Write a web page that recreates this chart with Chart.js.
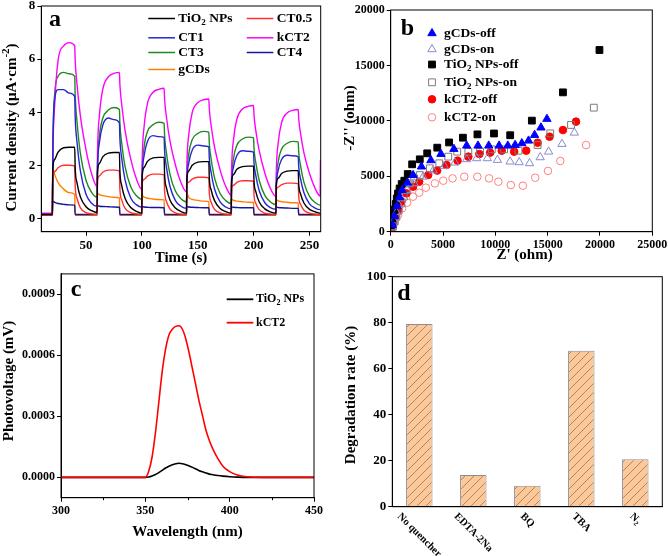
<!DOCTYPE html>
<html><head><meta charset="utf-8">
<script src="https://cdn.jsdelivr.net/npm/chart.js@4.4.1/dist/chart.umd.min.js"></script>
<style>
html,body{margin:0;padding:0;background:#fff}
body{width:668px;height:556px;position:relative;overflow:hidden}
canvas{position:absolute;display:block}
</style></head><body>
<canvas id="ca" width="334" height="275" style="left:0;top:0;width:334px;height:275px"></canvas>
<canvas id="cb" width="334" height="275" style="left:334px;top:0;width:334px;height:275px"></canvas>
<canvas id="cc" width="334" height="291" style="left:0;top:265px;width:334px;height:291px"></canvas>
<canvas id="cd" width="334" height="291" style="left:334px;top:265px;width:334px;height:291px"></canvas>
<script>
// ================= Panel a: photocurrent vs time =================
const timeS = [10,
19.9,20.3,22,25,30,35,39.9,40.3,42,45,50,55,
59.9,60.3,62,65,70,75,79.9,80.3,82,85,90,95,
99.9,100.3,102,105,110,115,119.9,120.3,122,125,130,135,
139.9,140.3,142,145,150,155,159.9,160.3,162,165,170,175,
179.9,180.3,182,185,190,195,199.9,200.3,202,205,210,215,
219.9,220.3,222,225,230,235,239.9,240.3,242,245,250,255,
259.5,259.8];
const tio2NPs = [0.15,
0.15,1.87,2.22,2.5,2.66,2.68,2.68,1.94,1.33,0.81,0.44,0.29,
0.22,1.76,2.07,2.32,2.46,2.48,2.48,1.8,1.23,0.75,0.41,0.27,
0.2,1.63,1.92,2.15,2.28,2.3,2.3,1.67,1.15,0.7,0.39,0.26,
0.2,1.52,1.79,2.0,2.12,2.14,2.14,1.56,1.07,0.67,0.37,0.26,
0.2,1.4,1.65,1.85,1.95,1.97,1.97,1.44,1.0,0.62,0.36,0.25,
0.2,1.29,1.51,1.69,1.78,1.8,1.8,1.32,0.92,0.58,0.34,0.25,
0.2,0.2];
const ct05 = [0.13,
0.13,1.59,1.76,1.91,2.0,2.0,1.97,1.24,0.75,0.4,0.22,0.17,
0.15,1.45,1.6,1.74,1.82,1.82,1.79,1.13,0.69,0.38,0.22,0.17,
0.15,1.34,1.47,1.59,1.67,1.67,1.64,1.04,0.64,0.36,0.21,0.16,
0.15,1.24,1.37,1.48,1.55,1.55,1.53,0.98,0.61,0.34,0.21,0.16,
0.15,1.14,1.25,1.36,1.42,1.42,1.4,0.9,0.56,0.33,0.2,0.16,
0.15,1.07,1.18,1.27,1.33,1.33,1.31,0.85,0.53,0.31,0.2,0.16,
0.15,0.15];
const ct1 = [0.15,
0.15,2.4,4.5,4.85,4.85,4.72,4.6,3.85,2.86,1.78,0.91,0.57,
0.45,1.78,2.85,3.51,3.78,3.72,3.6,3.03,2.26,1.44,0.77,0.52,
0.42,1.5,2.36,2.9,3.12,3.08,3.05,2.57,1.93,1.23,0.67,0.46,
0.38,1.33,2.09,2.57,2.76,2.73,2.7,2.28,1.72,1.11,0.62,0.43,
0.36,1.24,1.94,2.37,2.55,2.53,2.5,2.11,1.6,1.04,0.59,0.41,
0.35,1.16,1.81,2.22,2.38,2.36,2.33,1.97,1.49,0.97,0.55,0.39,
0.33,0.33];
const kct2 = [0.2,
0.2,2.2,4.3,5.95,6.5,6.62,6.5,5.97,5.02,3.85,2.58,1.68,
1.2,2.5,3.87,4.86,5.33,5.46,5.5,5.06,4.27,3.3,2.24,1.5,
1.1,2.24,3.46,4.33,4.75,4.86,4.9,4.51,3.81,2.95,2.01,1.35,
1.0,2.05,3.17,3.98,4.36,4.47,4.5,4.14,3.49,2.69,1.82,1.21,
0.88,1.89,2.97,3.74,4.12,4.22,4.25,3.91,3.29,2.54,1.71,1.13,
0.82,1.8,2.85,3.61,3.97,4.07,4.1,3.77,3.19,2.47,1.69,1.13,
0.84,2.2];
const ct3 = [0.15,
0.15,2.5,4.7,5.35,5.5,5.45,5.35,4.67,3.62,2.44,1.44,0.98,
0.8,1.98,3.1,3.77,4.08,4.18,4.1,3.59,2.82,1.94,1.19,0.86,
0.72,1.74,2.69,3.27,3.53,3.62,3.58,3.14,2.46,1.69,1.03,0.74,
0.62,1.55,2.43,2.96,3.2,3.28,3.25,2.85,2.23,1.53,0.94,0.67,
0.56,1.44,2.26,2.76,2.99,3.06,3.04,2.66,2.08,1.43,0.87,0.62,
0.52,1.35,2.14,2.61,2.83,2.9,2.88,2.52,1.98,1.36,0.83,0.6,
0.5,0.5];
const ct4 = [0.15,
0.15,0.65,0.6,0.56,0.53,0.51,0.5,0.15,0.15,0.15,0.15,0.15,
0.15,0.48,0.46,0.45,0.44,0.43,0.42,0.15,0.15,0.15,0.15,0.15,
0.15,0.45,0.43,0.42,0.41,0.41,0.4,0.15,0.15,0.15,0.15,0.15,
0.15,0.45,0.43,0.42,0.41,0.4,0.4,0.15,0.15,0.15,0.15,0.15,
0.15,0.43,0.42,0.41,0.4,0.4,0.4,0.15,0.15,0.15,0.15,0.15,
0.15,0.42,0.41,0.4,0.39,0.38,0.38,0.15,0.15,0.15,0.15,0.15,
0.15,0.15];
const gcds = [0.12,
0.12,1.88,1.65,1.35,1.1,0.97,0.9,0.12,0.12,0.12,0.12,0.12,
0.12,0.95,0.9,0.86,0.82,0.8,0.78,0.12,0.12,0.12,0.12,0.12,
0.12,0.85,0.8,0.76,0.73,0.71,0.7,0.12,0.12,0.12,0.12,0.12,
0.12,0.95,0.78,0.72,0.68,0.65,0.63,0.12,0.12,0.12,0.12,0.12,
0.12,0.72,0.68,0.65,0.63,0.61,0.6,0.12,0.12,0.12,0.12,0.12,
0.12,0.7,0.66,0.63,0.61,0.59,0.58,0.12,0.12,0.12,0.12,0.12,
0.12,0.12];
const aXTicks = [50,100,150,200,250];
const aYTicks = [0,2,4,6,8];

// ================= Panel b: Nyquist plots =================
const gcdsOffZre = [150,350,600,850,1090,1600,2140,2940,3840,4800,6040,7260,8340,9370,10360,11190,11890,12530,13170,13750,14360,14930];
const gcdsOffZim = [600,1400,2300,3100,3760,4420,5110,5870,6440,7010,7460,7760,7760,7760,7760,7760,7820,7970,8210,8720,9390,10170];
const gcdsOnZre = [120,300,550,780,1020,1570,2240,3100,4060,5120,6140,7260,8220,9240,10200,11410,12280,13270,14290,15090,16370,17550];
const gcdsOnZim = [400,1000,1750,2400,3010,3760,4360,4960,5510,5930,6230,6530,6620,6620,6470,6320,6260,6170,6710,7220,7910,8930];
const tio2OffZre = [80,180,280,380,480,580,700,850,1050,1300,1630,2050,2780,3490,4450,5580,6900,8290,9870,11420,13490,16460,19950];
const tio2OffZim = [500,1000,1500,2000,2500,3000,3450,3900,4300,4600,5200,6080,6530,7070,7580,8050,8480,8780,8860,8700,10020,12570,16390];
const tio2OnZre = [220,380,540,770,1020,1250,1500,1820,2240,2780,3740,4640,5500,6360,7420,8540,9660,10840,12210,14040,15250,17230,19410];
const tio2OnZim = [450,900,1350,1950,2560,3160,3760,4360,4810,5110,5720,6170,6770,7220,7220,7220,7430,7430,7310,7820,8870,9630,11190];
const kct2OffZre = [100,250,450,700,1020,1500,2140,2720,3580,4440,5340,6390,7420,8470,9500,10610,11800,12950,14040,15180,16460,17710];
const kct2OffZim = [300,800,1400,2000,2710,3460,4060,4510,5110,5510,6020,6410,6770,7010,7130,7310,7220,7310,8030,8570,9170,9930];
const kct2OnZre = [160,380,700,1090,1570,2140,2720,3360,4220,5020,5910,7030,8280,9400,10290,11480,12630,13810,15030,16210,18670];
const kct2OnZim = [450,900,1500,2110,2620,3160,3520,3970,4360,4600,4810,4960,4960,4810,4510,4210,4150,4870,5480,6380,7820];

// ================= Panel c: surface photovoltage =================
const wavelengthNm = [300,345,350,352,354,356,358,360,362,364,366,368,370,372,374,376,378,380,382,384,386,388,390,393,396,400,405,410,420,450];
const spvTiO2 = [0,0,0,0.000002,0.000007,0.000014,0.000023,0.000034,0.000046,0.000055,0.000062,0.000067,0.000069,0.000067,0.000062,0.000056,0.000049,0.000041,0.000033,0.000027,0.000021,0.000016,0.000013,0.000009,0.000006,0.000003,0.000001,0,0,0];
const spvKct2 = [0,0,0,0.00003,0.0001,0.00022,0.00037,0.00052,0.00063,0.0007,0.000728,0.000742,0.000745,0.000728,0.00068,0.00061,0.00053,0.00045,0.00037,0.0003,0.00023,0.00018,0.00014,0.000092,0.000055,0.000028,0.00001,0.000003,0,0];
const cXTicks = [300,350,400,450];
const cYTicks = [0,0.0003,0.0006,0.0009];

// ================= Panel d: quenching experiment =================
const quenchers = ['No quencher','EDTA-2Na','BQ','TBA','N₂'];
const degradationRate = [79.4,13.8,9.1,67.8,20.6];
const dYTicks = [0,20,40,60,80,100];

// ================= helpers =================
const FONT = '"Liberation Serif","Times New Roman",serif';
const SUBS = '₀₁₂₃₄₅₆₇₈₉';
const SUPS = '⁰¹²³⁴⁵⁶⁷⁸⁹';
function parseRich(str){
  const parts=[];
  for(const ch of str){
    let mode='n', c=ch;
    const si=SUBS.indexOf(ch), pi=SUPS.indexOf(ch);
    if(si>=0){mode='sub';c=String(si);} else if(pi>=0){mode='sup';c=String(pi);} else if(ch==='⁻'){mode='sup';c='-';}
    if(parts.length && parts[parts.length-1].mode===mode) parts[parts.length-1].t+=c; else parts.push({t:c,mode});
  }
  return parts;
}
function fontFor(mode,size){return 'bold '+(mode==='n'?size:Math.round(size*0.7))+'px '+FONT;}
function measureRich(ctx,str,size){
  let w=0; for(const p of parseRich(str)){ctx.font=fontFor(p.mode,size); w+=ctx.measureText(p.t).width;} return w;
}
function richText(ctx,str,x,y,size,align){
  const parts=parseRich(str); let w=0;
  for(const p of parts){ctx.font=fontFor(p.mode,size); p.w=ctx.measureText(p.t).width; w+=p.w;}
  let cx = align==='center'? x-w/2 : align==='right'? x-w : x;
  ctx.save(); ctx.fillStyle='#000'; ctx.textAlign='left'; ctx.textBaseline='middle';
  for(const p of parts){
    ctx.font=fontFor(p.mode,size);
    const dy = p.mode==='sub'? size*0.3 : p.mode==='sup'? -size*0.35 : 0;
    ctx.fillText(p.t,cx,y+dy); cx+=p.w;
  }
  ctx.restore();
}
function rotText(ctx,str,x,y,size,ang){ctx.save();ctx.translate(x,y);ctx.rotate(ang);richText(ctx,str,0,0,size,'center');ctx.restore();}
function frame(chart){const {ctx,chartArea:a}=chart; ctx.save(); ctx.strokeStyle='#000'; ctx.lineWidth=1; ctx.strokeRect(a.left,a.top,a.right-a.left,a.bottom-a.top); ctx.restore();}
function letter(ctx,ch,x,y){ctx.save();ctx.fillStyle='#000';ctx.font='bold 24px '+FONT;ctx.textAlign='left';ctx.textBaseline='alphabetic';ctx.fillText(ch,x,y);ctx.restore();}
function marker(ctx,style,x,y,r,color,filled){
  ctx.save(); ctx.beginPath();
  if(style==='triangle'){ for(let k=0;k<3;k++){const a=k*2*Math.PI/3; const px=x+Math.sin(a)*r, py=y-Math.cos(a)*r; k?ctx.lineTo(px,py):ctx.moveTo(px,py);} ctx.closePath(); }
  else if(style==='rect'){ const s=r*Math.SQRT1_2; ctx.rect(x-s,y-s,2*s,2*s); }
  else { ctx.arc(x,y,r,0,2*Math.PI); }
  if(filled){ctx.fillStyle=color; ctx.fill();}
  ctx.strokeStyle=color; ctx.lineWidth=1; ctx.stroke(); ctx.restore();
}
function tickFont(size){return {family:FONT,weight:'bold',size};}
function axisCommon(size){
  return {ticks:{font:tickFont(size),color:'#000',padding:2,maxRotation:0,minRotation:0},
          grid:{drawOnChartArea:false,drawTicks:true,tickLength:4,color:'#000',lineWidth:1},
          border:{display:true,color:'#000',width:1}};
}
function fixTicks(list){return s=>{s.ticks=list.map(v=>({value:v}));};}
function fitY(w){return s=>{s.width=w; s.paddingTop=0; s.paddingBottom=0;};}
function fitX(h){return s=>{s.height=h; s.paddingLeft=0; s.paddingRight=0;};}
const baseOpts = {responsive:false, animation:false, plugins:{legend:{display:false},tooltip:{enabled:false}}};

// ================= Chart a =================
const seriesA = [
  {label:'TiO₂ NPs', values:tio2NPs, color:'#000000'},
  {label:'CT0.5', values:ct05, color:'#FF3030'},
  {label:'CT1', values:ct1, color:'#2626D6'},
  {label:'kCT2', values:kct2, color:'#FF00FF'},
  {label:'CT3', values:ct3, color:'#1E8B1E'},
  {label:'CT4', values:ct4, color:'#16169C'},
  {label:'gCDs', values:gcds, color:'#FF8000'}
];
(function(){
  const W=334,H=275, A={left:41.3,top:6,right:320.7,bottom:231.7};
  const legendPos=[[148.3,18.5],[246.7,18.5],[148.3,37.8],[246.7,37.8],[148.3,52.5],[246.7,52.5],[148.3,69.5]];
  const deco={id:'decoA',afterDraw(chart){
    const ctx=chart.ctx; frame(chart); letter(ctx,'a',49,26);
    rotText(ctx,'Current density (μA·cm⁻²)',11.7,127.5,15,-Math.PI/2);
    richText(ctx,'Time (s)',181,258,15,'center');
    seriesA.forEach((s,i)=>{const [x,y]=legendPos[i]; ctx.save(); ctx.strokeStyle=s.color; ctx.lineWidth=1.5; ctx.beginPath(); ctx.moveTo(x,y); ctx.lineTo(x+26.7,y); ctx.stroke(); ctx.restore(); richText(ctx,s.label,x+30,y,13.5,'left');});
  }};
  const cx=axisCommon(13), cy=axisCommon(13);
  new Chart(document.getElementById('ca'),{
    type:'line',
    data:{datasets:seriesA.map(s=>({label:s.label,data:timeS.map((t,i)=>({x:t,y:s.values[i]})),borderColor:s.color,borderWidth:1.4,pointRadius:0,cubicInterpolationMode:'monotone',fill:false}))},
    options:Object.assign({},baseOpts,{
      layout:{padding:{left:0,top:A.top,right:W-A.right,bottom:0}},
      scales:{
        x:Object.assign(cx,{type:'linear',min:10,max:260,afterBuildTicks:fixTicks(aXTicks),afterFit:fitX(H-A.bottom)}),
        y:Object.assign(cy,{type:'linear',min:-0.5,max:8,afterBuildTicks:fixTicks(aYTicks),afterFit:fitY(A.left)})
      }
    }),
    plugins:[deco]
  });
})();

// ================= Chart b =================
const seriesB = [
  {label:'gCDs-off', xs:gcdsOffZre, ys:gcdsOffZim, style:'triangle', color:'#0000FF', filled:true, r:4.8},
  {label:'gCDs-on', xs:gcdsOnZre, ys:gcdsOnZim, style:'triangle', color:'#8A8AD0', filled:false, r:4.8},
  {label:'TiO₂ NPs-off', xs:tio2OffZre, ys:tio2OffZim, style:'rect', color:'#000000', filled:true, r:4.8},
  {label:'TiO₂ NPs-on', xs:tio2OnZre, ys:tio2OnZim, style:'rect', color:'#7A7A7A', filled:false, r:4.8},
  {label:'kCT2-off', xs:kct2OffZre, ys:kct2OffZim, style:'circle', color:'#FF0000', filled:true, r:3.8},
  {label:'kCT2-on', xs:kct2OnZre, ys:kct2OnZim, style:'circle', color:'#FF8080', filled:false, r:3.8}
];
(function(){
  const W=334,H=275, A={left:56.7,top:10,right:318.3,bottom:231.7};
  const legY=[33.3,49.3,64.5,82.3,99.3,117.3];
  const deco={id:'decoB',afterDraw(chart){
    const ctx=chart.ctx; frame(chart); letter(ctx,'b',66.7,35);
    rotText(ctx,"-Z'' (ohm)",16.5,118,15,-Math.PI/2);
    richText(ctx,"Z' (ohm)",190.5,255,15,'center');
    seriesB.forEach((s,i)=>{marker(ctx,s.style,98,legY[i],s.r,s.color,s.filled); richText(ctx,s.label,110,legY[i],13.5,'left');});
  }};
  const cx=axisCommon(12), cy=axisCommon(12);
  const plain=v=>String(Math.round(v));
  new Chart(document.getElementById('cb'),{
    type:'scatter',
    data:{datasets:seriesB.map(s=>({label:s.label,data:s.xs.map((x,i)=>({x,y:s.ys[i]})),pointStyle:s.style,pointRadius:s.r,
      pointBackgroundColor:s.filled?s.color:'rgba(0,0,0,0)',pointBorderColor:s.color,pointBorderWidth:1,showLine:false}))},
    options:Object.assign({},baseOpts,{
      layout:{padding:{left:0,top:A.top,right:W-A.right,bottom:0}},
      scales:{
        x:Object.assign(cx,{type:'linear',min:0,max:25000,ticks:Object.assign(cx.ticks,{stepSize:5000,callback:plain}),afterFit:fitX(H-A.bottom)}),
        y:Object.assign(cy,{type:'linear',min:0,max:20000,ticks:Object.assign(cy.ticks,{stepSize:5000,callback:plain}),afterFit:fitY(A.left)})
      }
    }),
    plugins:[deco]
  });
})();

// ================= Chart c =================
const seriesC = [
  {label:'TiO₂ NPs', values:spvTiO2, color:'#000000', order:1},
  {label:'kCT2', values:spvKct2, color:'#FF0000', order:0}
];
(function(){
  const W=334,H=291, A={left:61,top:8.9,right:314,bottom:232.7};
  const deco={id:'decoC',afterDraw(chart){
    const ctx=chart.ctx; frame(chart); letter(ctx,'c',70.7,30.7);
    rotText(ctx,'Photovoltage (mV)',9,116,15,-Math.PI/2);
    richText(ctx,'Wavelength (nm)',187.5,266.7,15,'center');
    const xs=chart.scales.x, a=chart.chartArea;
    ctx.save(); ctx.strokeStyle='#000'; ctx.lineWidth=1;
    [325,375,425].forEach(v=>{const px=Math.round(xs.getPixelForValue(v))+0.5; ctx.beginPath(); ctx.moveTo(px,a.bottom); ctx.lineTo(px,a.bottom+2.5); ctx.stroke();});
    ctx.restore();
    const leg=[34.3,57.7];
    seriesC.forEach((s,i)=>{const y=leg[i]; ctx.save(); ctx.strokeStyle=s.color; ctx.lineWidth=1.8; ctx.beginPath(); ctx.moveTo(226.7,y); ctx.lineTo(253.3,y); ctx.stroke(); ctx.restore(); richText(ctx,s.label,256,y,12,'left');});
  }};
  const cx=axisCommon(12), cy=axisCommon(12);
  new Chart(document.getElementById('cc'),{
    type:'line',
    data:{datasets:seriesC.map(s=>({label:s.label,order:s.order,data:wavelengthNm.map((w,i)=>({x:w,y:s.values[i]})),borderColor:s.color,borderWidth:1.6,pointRadius:0,cubicInterpolationMode:'monotone',fill:false}))},
    options:Object.assign({},baseOpts,{
      layout:{padding:{left:0,top:A.top,right:W-A.right,bottom:0}},
      scales:{
        x:Object.assign(cx,{type:'linear',min:300,max:450,afterBuildTicks:fixTicks(cXTicks),afterFit:fitX(H-A.bottom)}),
        y:Object.assign(cy,{type:'linear',min:-0.0001,max:0.001,afterBuildTicks:fixTicks(cYTicks),afterFit:fitY(A.left),
          ticks:Object.assign(cy.ticks,{callback:v=>Number(v).toFixed(4)})})
      }
    }),
    plugins:[deco]
  });
})();

// ================= Chart d =================
(function(){
  const W=334,H=291, A={left:58.3,top:11.7,right:328.3,bottom:241.7};
  const canvas=document.getElementById('cd');
  const pc=document.createElement('canvas'); pc.width=9; pc.height=9;
  const g=pc.getContext('2d'); g.fillStyle='#FCC897'; g.fillRect(0,0,9,9);
  g.strokeStyle='rgba(125,95,85,0.8)'; g.lineWidth=0.8; g.beginPath();
  g.moveTo(0,9); g.lineTo(9,0); g.moveTo(-1,1); g.lineTo(1,-1); g.moveTo(8,10); g.lineTo(10,8); g.stroke();
  const hatch=canvas.getContext('2d').createPattern(pc,'repeat');
  const deco={id:'decoD',afterDraw(chart){
    const ctx=chart.ctx; frame(chart); letter(ctx,'d',63.3,35);
    rotText(ctx,'Degradation rate (%)',16.7,130,15,-Math.PI/2);
    const xs=chart.scales.x, base=chart.chartArea.bottom;
    quenchers.forEach((lab,i)=>{
      const x=xs.getPixelForValue(i); const w=measureRich(ctx,lab,10.5); const h=9;
      const cyy=base+5+(w+h)*0.7071/2;
      ctx.save(); ctx.translate(x,cyy); ctx.rotate(Math.PI/4); richText(ctx,lab,0,0,10.5,'center'); ctx.restore();
    });
  }};
  const cx=axisCommon(13), cy=axisCommon(13);
  new Chart(canvas,{
    type:'bar',
    data:{labels:quenchers,datasets:[{label:'Degradation rate',data:degradationRate,backgroundColor:hatch,borderColor:'#8C8C96',borderWidth:1,barPercentage:0.49,categoryPercentage:1}]},
    options:Object.assign({},baseOpts,{
      layout:{padding:{left:0,top:A.top,right:W-A.right,bottom:0}},
      scales:{
        x:Object.assign(cx,{type:'category',ticks:Object.assign(cx.ticks,{display:false}),grid:{display:false},afterFit:fitX(H-A.bottom)}),
        y:Object.assign(cy,{type:'linear',min:0,max:100,afterBuildTicks:fixTicks(dYTicks),afterFit:fitY(A.left)})
      }
    }),
    plugins:[deco]
  });
})();
</script>
</body></html>
